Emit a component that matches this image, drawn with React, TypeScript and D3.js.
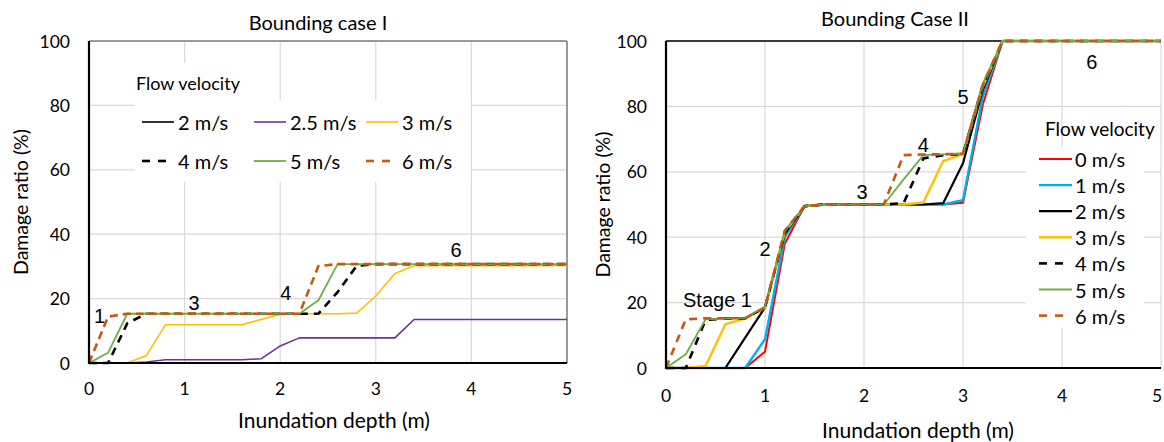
import React from 'react';
import * as d3 from 'd3';

// ---------- DATA ----------
const depths = [0, 0.2, 0.4, 0.6, 0.8, 1.0, 1.2, 1.4, 1.6, 1.8, 2.0, 2.2, 2.4, 2.6, 2.8, 3.0, 3.2, 3.4, 3.6, 3.8, 4.0, 4.2, 4.4, 4.6, 4.8, 5.0];

const xTicks = [0, 1, 2, 3, 4, 5];
const yTicks = [0, 20, 40, 60, 80, 100];

// Bounding case I
const caseILabels = ['2 m/s', '2.5 m/s', '3 m/s', '4 m/s', '5 m/s', '6 m/s'];
const caseI_v2 = [0, 0, 0, 0, 0, 0, 0, 0, 0, 0, 0, 0, 0, 0, 0, 0, 0, 0, 0, 0, 0, 0, 0, 0, 0, 0];
const caseI_v25 = [0, 0, 0, 0.3, 1, 1, 1, 1, 1, 1.3, 5.3, 7.8, 7.8, 7.8, 7.8, 7.8, 7.8, 13.5, 13.5, 13.5, 13.5, 13.5, 13.5, 13.5, 13.5, 13.5];
const caseI_v3 = [0, 0, 0, 2.3, 11.9, 11.9, 11.9, 11.9, 11.9, 13.5, 15.1, 15.3, 15.3, 15.3, 15.5, 20.8, 27.8, 30.2, 30.2, 30.2, 30.2, 30.2, 30.2, 30.2, 30.2, 30.3];
const caseI_v4 = [0, 0, 12.3, 15.3, 15.3, 15.3, 15.3, 15.3, 15.3, 15.3, 15.3, 15.3, 15.3, 22, 30.2, 30.7, 30.7, 30.7, 30.7, 30.7, 30.7, 30.7, 30.7, 30.7, 30.7, 30.7];
const caseI_v5 = [0, 3.2, 15.3, 15.3, 15.3, 15.3, 15.3, 15.3, 15.3, 15.3, 15.3, 15.3, 19.5, 30.7, 30.7, 30.7, 30.7, 30.7, 30.7, 30.7, 30.7, 30.7, 30.7, 30.7, 30.7, 30.7];
const caseI_v6 = [0, 14.4, 15.3, 15.3, 15.3, 15.3, 15.3, 15.3, 15.3, 15.3, 15.3, 15.3, 30.1, 30.7, 30.7, 30.7, 30.7, 30.7, 30.7, 30.7, 30.7, 30.7, 30.7, 30.7, 30.7, 30.7];

// Bounding case II
const caseIILabels = ['0 m/s', '1 m/s', '2 m/s', '3 m/s', '4 m/s', '5 m/s', '6 m/s'];
const caseII_v0 = [0, 0, 0, 0, 0, 5, 38, 49.5, 50, 50, 50, 50, 50, 50, 50, 50.5, 80.5, 100, 100, 100, 100, 100, 100, 100, 100, 100];
const caseII_v1 = [0, 0, 0, 0, 0, 8.8, 40, 49.5, 50, 50, 50, 50, 50, 50, 50, 51.3, 83, 100, 100, 100, 100, 100, 100, 100, 100, 100];
const caseII_v2 = [0, 0, 0, 0, 9.3, 18.5, 41, 49.5, 50, 50, 50, 50, 50, 50, 50.4, 62.6, 85, 100, 100, 100, 100, 100, 100, 100, 100, 100];
const caseII_v3 = [0, 0, 0.6, 13.4, 15.1, 18.5, 41.5, 49.5, 50, 50, 50, 50, 50, 50.6, 63.3, 65.4, 86, 100, 100, 100, 100, 100, 100, 100, 100, 100];
const caseII_v4 = [0, 0, 14.7, 15.1, 15.2, 18.5, 41.5, 49.5, 50, 50, 50, 50, 50.4, 64.1, 65.1, 65.5, 86.5, 100, 100, 100, 100, 100, 100, 100, 100, 100];
const caseII_v5 = [0, 4.2, 14.9, 15.1, 15.3, 18.8, 42, 49.5, 50, 50, 50, 50, 57.7, 65.1, 65.3, 65.6, 87, 100, 100, 100, 100, 100, 100, 100, 100, 100];
const caseII_v6 = [0, 14.9, 15.2, 15.2, 15.2, 18.5, 42, 49.5, 50, 50, 50, 50, 65.1, 65.3, 65.4, 65.5, 86.5, 100, 100, 100, 100, 100, 100, 100, 100, 100];

// Stage annotations
const caseIStageLabels = [
  { text: '1', x: 0.11, y: 14.5 },
  { text: '3', x: 1.1, y: 18.6 },
  { text: '4', x: 2.06, y: 21.8 },
  { text: '6', x: 3.84, y: 35.0 },
];
const caseIIStageLabels = [
  { text: 'Stage 1', x: 0.52, y: 20.7 },
  { text: '2', x: 1.0, y: 36.3 },
  { text: '3', x: 1.98, y: 53.9 },
  { text: '4', x: 2.6, y: 68.2 },
  { text: '5', x: 3.0, y: 82.8 },
  { text: '6', x: 4.3, y: 93.6 },
];

// ---------- STYLES ----------
const FONT = 'Lato, "Open Sans", sans-serif';
const ANN_FONT = '"Liberation Sans", Arial, sans-serif';

const caseIStyles = [
  { color: '#000000', dash: null, width: 1.6 },
  { color: '#7030A0', dash: null, width: 1.6 },
  { color: '#FFC000', dash: null, width: 1.6 },
  { color: '#000000', dash: '8,6', width: 2.6 },
  { color: '#70AD47', dash: null, width: 1.8 },
  { color: '#C55A11', dash: '8,5', width: 2.6 },
];
const caseIIStyles = [
  { color: '#FF0000', dash: null, width: 2 },
  { color: '#00B0F0', dash: null, width: 2.4 },
  { color: '#000000', dash: null, width: 2.2 },
  { color: '#FFC000', dash: null, width: 2.4 },
  { color: '#000000', dash: '8,7', width: 2.6 },
  { color: '#70AD47', dash: null, width: 1.8 },
  { color: '#C55A11', dash: '8,6', width: 2.6 },
];

type Style = { color: string; dash: string | null; width: number };

function Lines({ series, styles, x, y }: { series: number[][]; styles: Style[]; x: any; y: any }) {
  const line = d3
    .line<number>()
    .x((_, i) => x(depths[i]))
    .y((d) => y(d));
  return (
    <g>
      {series.map((s, i) => (
        <path
          key={i}
          d={line(s) || ''}
          fill="none"
          stroke={styles[i].color}
          strokeWidth={styles[i].width}
          strokeDasharray={styles[i].dash || undefined}
          strokeLinejoin="round"
        />
      ))}
    </g>
  );
}

function Axes({ x, y, left, right, top, bottom, tickY, frameColor, rightBorder }: any) {
  return (
    <g>
      {xTicks.slice(1).map((t) => (
        <line key={'gx' + t} x1={x(t)} x2={x(t)} y1={top} y2={bottom} stroke="#d9d9d9" strokeWidth={1.2} />
      ))}
      {yTicks.slice(1).map((t) => (
        <line key={'gy' + t} x1={left} x2={right} y1={y(t)} y2={y(t)} stroke="#d9d9d9" strokeWidth={1.2} />
      ))}
      <line x1={left} x2={right} y1={top} y2={top} stroke={frameColor} strokeWidth={1.5} />
      {rightBorder && <line x1={right} x2={right} y1={top} y2={bottom} stroke={frameColor} strokeWidth={1.5} />}
      {xTicks.map((t) => (
        <text key={'tx' + t} x={Math.min(x(t), 1157)} y={tickY} textAnchor="middle" dominantBaseline="central" fontSize={17.5} fontFamily={FONT} fill="#000">
          {t}
        </text>
      ))}
      {yTicks.map((t) => (
        <text key={'ty' + t} x={left - 19} y={y(t)} textAnchor="end" dominantBaseline="central" fontSize={17.5} fontFamily={FONT} fill="#000">
          {t}
        </text>
      ))}
    </g>
  );
}

function AxisLines({ left, right, top, bottom }: any) {
  return (
    <g>
      <line x1={left} x2={left} y1={top} y2={bottom + 1} stroke="#000" strokeWidth={2.2} />
      <line x1={left} x2={right} y1={bottom} y2={bottom} stroke="#000" strokeWidth={2.2} />
    </g>
  );
}

function LegendSample({ x, y, len, style }: { x: number; y: number; len: number; style: Style }) {
  if (style.dash) {
    return (
      <g>
        <line x1={x} x2={x + 8} y1={y} y2={y} stroke={style.color} strokeWidth={2.6} />
        <line x1={x + 16} x2={x + 24} y1={y} y2={y} stroke={style.color} strokeWidth={2.6} />
      </g>
    );
  }
  return <line x1={x} x2={x + len} y1={y} y2={y} stroke={style.color} strokeWidth={style.width} />;
}

export default function App() {
  // Left chart
  const L = { left: 89, right: 567, top: 41, bottom: 363 };
  const xL = d3.scaleLinear().domain([0, 5]).range([L.left, L.right]);
  const yL = d3.scaleLinear().domain([0, 100]).range([L.bottom, L.top]);
  // Right chart
  const R = { left: 666, right: 1161, top: 41, bottom: 368 };
  const xR = d3.scaleLinear().domain([0, 5]).range([R.left, R.right]);
  const yR = d3.scaleLinear().domain([0, 100]).range([R.bottom, R.top]);

  const seriesI = [caseI_v2, caseI_v25, caseI_v3, caseI_v4, caseI_v5, caseI_v6];
  const seriesII = [caseII_v0, caseII_v1, caseII_v2, caseII_v3, caseII_v4, caseII_v5, caseII_v6];

  const legColX = [142, 254, 366];
  const legRowY = [122, 161];

  return (
    <svg width={1164} height={442} style={{ position: 'absolute', left: 0, top: 0, background: '#fff' }}>
      <rect x={0} y={0} width={1164} height={442} fill="#fff" />

      {/* ===== LEFT CHART ===== */}
      <Axes x={xL} y={yL} {...L} tickY={388} frameColor="#7f7f7f" rightBorder={true} />
      {/* legend boxes */}
      <rect x={135} y={63} width={110} height={38} fill="#fff" />
      <rect x={135} y={100} width={336} height={82} fill="#fff" />
      <text x={136} y={83} fontSize={18} fontFamily={FONT} dominantBaseline="central" fill="#000">
        Flow velocity
      </text>
      {caseILabels.map((lab, i) => {
        const cx = legColX[i % 3];
        const cy = legRowY[Math.floor(i / 3)];
        return (
          <g key={lab}>
            <LegendSample x={cx} y={cy} len={32} style={caseIStyles[i]} />
            <text x={cx + 36} y={cy} fontSize={20} fontFamily={FONT} dominantBaseline="central" fill="#000">
              {lab}
            </text>
          </g>
        );
      })}
      <Lines series={seriesI} styles={caseIStyles} x={xL} y={yL} />
      <AxisLines {...L} />
      {caseIStageLabels.map((a) => (
        <text key={a.text} x={xL(a.x)} y={yL(a.y)} textAnchor="middle" dominantBaseline="central" fontSize={20} fontFamily={ANN_FONT} fill="#000">
          {a.text}
        </text>
      ))}
      <text x={318} y={22} textAnchor="middle" dominantBaseline="central" fontSize={20} fontFamily={FONT} fill="#000">
        Bounding case I
      </text>
      <text x={334} y={419} textAnchor="middle" dominantBaseline="central" fontSize={21} fontFamily={FONT} fill="#000">
        Inundation depth (m)
      </text>
      <text transform={`translate(20,${(L.top + L.bottom) / 2}) rotate(-90)`} textAnchor="middle" dominantBaseline="central" fontSize={19.5} fontFamily={FONT} fill="#000">
        Damage ratio (%)
      </text>

      {/* ===== RIGHT CHART ===== */}
      <Axes x={xR} y={yR} {...R} tickY={395} frameColor="#000" rightBorder={false} />
      <rect x={1026} y={147} width={118} height={181} fill="#fff" />
      <text x={1045} y={128} fontSize={19} fontFamily={FONT} dominantBaseline="central" fill="#000">
        Flow velocity
      </text>
      {caseIILabels.map((lab, i) => {
        const cy = 159 + i * 26.1;
        return (
          <g key={lab}>
            <LegendSample x={1039} y={cy} len={33} style={caseIIStyles[i]} />
            <text x={1075} y={cy} fontSize={20} fontFamily={FONT} dominantBaseline="central" fill="#000">
              {lab}
            </text>
          </g>
        );
      })}
      <Lines series={seriesII} styles={caseIIStyles} x={xR} y={yR} />
      <AxisLines {...R} />
      {caseIIStageLabels.map((a) => (
        <text key={a.text} x={xR(a.x)} y={yR(a.y)} textAnchor="middle" dominantBaseline="central" fontSize={20} fontFamily={ANN_FONT} fill="#000">
          {a.text}
        </text>
      ))}
      <text x={895} y={18} textAnchor="middle" dominantBaseline="central" fontSize={20} fontFamily={FONT} fill="#000">
        Bounding Case II
      </text>
      <text x={918} y={429} textAnchor="middle" dominantBaseline="central" fontSize={21} fontFamily={FONT} fill="#000">
        Inundation depth (m)
      </text>
      <text transform={`translate(602,${(R.top + R.bottom) / 2}) rotate(-90)`} textAnchor="middle" dominantBaseline="central" fontSize={19.5} fontFamily={FONT} fill="#000">
        Damage ratio (%)
      </text>
    </svg>
  );
}
